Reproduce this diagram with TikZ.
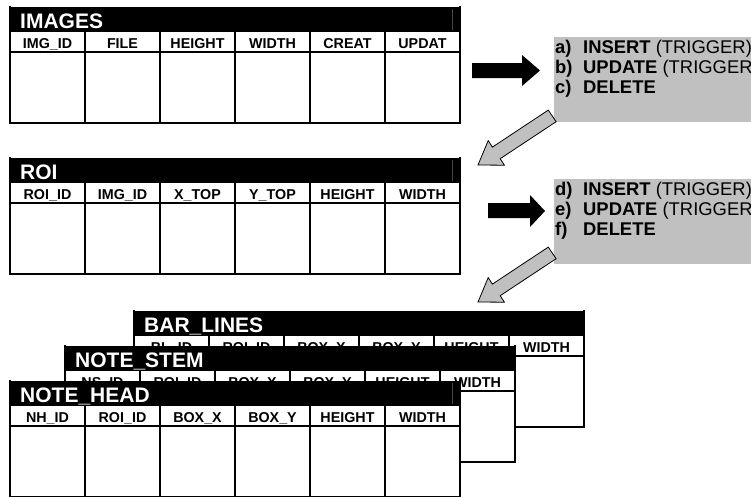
\documentclass[tikz,border=0pt]{standalone}
\usepackage{fontspec}
\setmainfont{Liberation Sans}
\definecolor{boxgray}{RGB}{192,192,192}
\definecolor{lightline}{RGB}{70,70,70}
\newcommand\dbtable[6]{% #1 name, #2 x, #3 y, #4 title, #5 columns, #6 artifact line (1/0)
 \begin{scope}[shift={(#2,#3)}]
  \fill[white] (0,0) rectangle (450,116);
  \node[titlebar, anchor=north west] (#1) at (0,0) {};
  \ifnum#6=1 \draw[lightline, line width=0.7pt] (442,2) -- (442,23);\fi
  \node[titletext, anchor=base west] (#1-t) at (10,21) {#4};
  \foreach \c [count=\i] in {#5} {
    \node[headtext, anchor=base] (#1-\i) at ({75*\i-37.5},41) {\c};
  }
  \foreach \k in {1,...,5} \draw[tline] (75*\k,25) -- (75*\k,116);
  \draw[tline] (0,45) -- (450,45);
  \draw[tline] (0,0) -- (0,116) -- (450,116) -- (450,0);
 \end{scope}}
\begin{document}
\begin{tikzpicture}[x=1pt,y=-1pt,
  tline/.style={line width=2pt, line cap=rect},
  titlebar/.style={fill=black, inner sep=0pt, outer sep=0pt, minimum width=450, minimum height=25},
  titletext/.style={text=white, inner sep=0pt, font=\fontsize{21}{23}\selectfont\bfseries},
  headtext/.style={inner sep=0pt, font=\fontsize{14.3}{16}\selectfont\bfseries},
  graybox/.style={fill=boxgray, inner sep=0pt, outer sep=0pt, minimum width=220, minimum height=85},
  trigtext/.style={inner sep=0pt, font=\fontsize{18.4}{20}\selectfont},
  blackarrow/.style={fill=black},
  grayarrow/.style={fill=boxgray, draw=black, line width=0.8pt, line join=miter}]
\useasboundingbox (0,0) rectangle (751,496);
\clip (0,0) rectangle (751,496);
\fill[white] (0,0) rectangle (751,496);

% tables
\dbtable{images}{10}{7}{IMAGES}{IMG\_ID,FILE,HEIGHT,WIDTH,CREAT,UPDAT}{1}
\dbtable{roi}{10}{158}{ROI}{ROI\_ID,IMG\_ID,X\_TOP,Y\_TOP,HEIGHT,WIDTH}{1}
\dbtable{bar}{134}{311}{BAR\_LINES}{BL\_ID,ROI\_ID,BOX\_X,BOX\_Y,HEIGHT,WIDTH}{0}
\dbtable{stem}{65}{346}{NOTE\_STEM}{NS\_ID,ROI\_ID,BOX\_X,BOX\_Y,HEIGHT,WIDTH}{0}
\dbtable{head}{10}{381}{NOTE\_HEAD}{NH\_ID,ROI\_ID,BOX\_X,BOX\_Y,HEIGHT,WIDTH}{1}

% trigger boxes
\node[graybox, anchor=north west] (box1) at (554,37) {};
\node[trigtext, anchor=base west] (box1-a) at (555,53) {\makebox[28pt][l]{\bfseries a)}\textbf{INSERT} (TRIGGER)};
\node[trigtext, anchor=base west] (box1-b) at (555,73) {\makebox[28pt][l]{\bfseries b)}\textbf{UPDATE} (TRIGGER)};
\node[trigtext, anchor=base west] (box1-c) at (555,93) {\makebox[28pt][l]{\bfseries c)}\textbf{DELETE}};

\node[graybox, anchor=north west] (box2) at (554,179) {};
\node[trigtext, anchor=base west] (box2-d) at (555,195) {\makebox[28pt][l]{\bfseries d)}\textbf{INSERT} (TRIGGER)};
\node[trigtext, anchor=base west] (box2-e) at (555,215) {\makebox[28pt][l]{\bfseries e)}\textbf{UPDATE} (TRIGGER)};
\node[trigtext, anchor=base west] (box2-f) at (555,235) {\makebox[28pt][l]{\bfseries f)}\textbf{DELETE}};

% black arrows
\fill[blackarrow] (472,63) -- (522,63) -- (522,55) -- (540,70.5) -- (522,86) -- (522,78) -- (472,78) -- cycle;
\fill[blackarrow] (488,203) -- (530,203) -- (530,195) -- (545,211) -- (530,227) -- (530,218) -- (488,218) -- cycle;

% gray arrows
\foreach \dy in {0,137} {
  \begin{scope}[shift={(0,\dy)}]
  \draw[grayarrow] (548.3,110.1) -- (492.4,147.1) -- (488.2,140.6) -- (478,165)
     -- (504.4,165.2) -- (500.2,158.7) -- (556.1,121.7) -- cycle;
  \end{scope}
}
\end{tikzpicture}
\end{document}
